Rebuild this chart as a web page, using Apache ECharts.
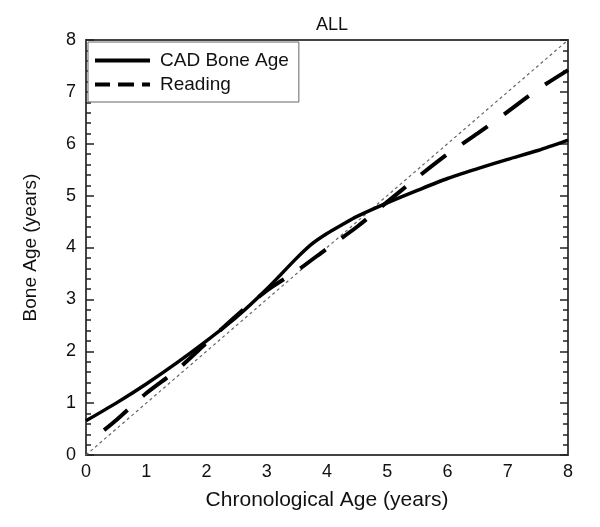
<!DOCTYPE html>
<html>
<head>
<meta charset="utf-8">
<script src="https://cdn.jsdelivr.net/npm/echarts@6/dist/echarts.min.js"></script>
<style>
  html, body { margin: 0; padding: 0; background: #fff; }
  #chart { width: 600px; height: 527px; }
</style>
</head>
<body>
<div id="chart"></div>
<script>
// chronological age (x) and bone age (y)
const cadAges = [0, 0.5, 1, 1.5, 2, 2.5, 3, 3.5, 3.75, 4, 4.25, 4.5, 5, 5.5, 6, 6.5, 7, 7.5, 8]
const cadBone = [0.66, 1.0, 1.37, 1.77, 2.2, 2.66, 3.2, 3.8, 4.07, 4.27, 4.44, 4.6, 4.86, 5.1, 5.33, 5.52, 5.7, 5.87, 6.07]

const readAges = [0.3, 0.5, 1, 1.5, 2, 2.5, 3, 3.5, 4, 4.5, 5, 5.5, 6, 6.5, 7, 7.5, 8]
const readBone = [0.48, 0.67, 1.19, 1.63, 2.16, 2.69, 3.17, 3.55, 3.98, 4.4, 4.88, 5.35, 5.8, 6.2, 6.62, 7.05, 7.42]

const identity = [[0, 0], [8, 8]]

const font = 'Liberation Sans, Arial, sans-serif'
const axisColor = '#444'

const chart = echarts.init(document.getElementById('chart'))

function frameAxis(pos, showLabel) {
  return {
    type: 'value',
    position: pos,
    min: 0,
    max: 8,
    interval: 1,
    axisLine: { show: true, onZero: false, lineStyle: { color: axisColor, width: 2 } },
    axisTick: { show: false },
    axisLabel: { show: showLabel, color: '#111', fontSize: 18, fontFamily: font, margin: 8 },
    splitLine: { show: false }
  }
}

function yFrame(pos, showLabel) {
  return {
    type: 'value',
    position: pos,
    min: 0,
    max: 8,
    interval: 1,
    axisLine: { show: true, onZero: false, lineStyle: { color: axisColor, width: 2 } },
    axisTick: { show: true, inside: true, length: 8, lineStyle: { color: '#222', width: 1.5 } },
    minorTick: { show: true, splitNumber: 5, length: 5, lineStyle: { color: '#222', width: 1.5 } },
    axisLabel: { show: showLabel, color: '#111', fontSize: 18, fontFamily: font, margin: 10 },
    splitLine: { show: false }
  }
}

const option = {
  backgroundColor: '#fff',
  animation: false,
  title: {
    text: 'ALL',
    left: 327,
    textAlign: 'center',
    top: 11,
    textStyle: { fontSize: 18, fontWeight: 'normal', color: '#111', fontFamily: font }
  },
  legend: {
    orient: 'vertical',
    left: 88,
    top: 42,
    itemWidth: 55,
    itemHeight: 4,
    itemGap: 5,
    padding: [9, 10, 8, 7],
    borderColor: '#666',
    borderWidth: 1,
    backgroundColor: '#fff',
    textStyle: { fontSize: 19, color: '#111', fontFamily: font, padding: [0, 0, 0, 5] },
    data: [
      { name: 'CAD Bone Age', icon: 'path://M0,0h55v4h-55z' },
      { name: 'Reading', icon: 'path://M0,0h15v4h-15z M23,0h16v4h-16z M47,0h8v4h-8z' }
    ]
  },
  grid: { left: 86, right: 32, top: 40, bottom: 72 },
  xAxis: [
    Object.assign(frameAxis('bottom', true), {
      name: 'Chronological Age (years)',
      nameLocation: 'middle',
      nameGap: 35,
      nameTextStyle: { fontSize: 21, color: '#111', fontFamily: font }
    }),
    frameAxis('top', false)
  ],
  yAxis: [
    Object.assign(yFrame('left', true), {
      name: 'Bone Age (years)',
      nameLocation: 'middle',
      nameGap: 46,
      nameTextStyle: { fontSize: 19, color: '#111', fontFamily: font }
    }),
    yFrame('right', false)
  ],
  series: [
    {
      name: 'identity',
      type: 'line',
      data: identity,
      symbol: 'none',
      silent: true,
      lineStyle: { color: '#666', width: 1.2, type: [3, 3] },
      z: 1
    },
    {
      name: 'CAD Bone Age',
      type: 'line',
      data: cadAges.map((a, i) => [a, cadBone[i]]),
      symbol: 'none',
      smooth: 0.25,
      lineStyle: { color: '#000', width: 3.5 },
      itemStyle: { color: '#000' }
    },
    {
      name: 'Reading',
      type: 'line',
      data: readAges.map((a, i) => [a, readBone[i]]),
      symbol: 'none',
      smooth: 0.25,
      lineStyle: { color: '#000', width: 4, type: [31, 20] },
      itemStyle: { color: '#000' }
    }
  ]
}

chart.setOption(option)
</script>
</body>
</html>
